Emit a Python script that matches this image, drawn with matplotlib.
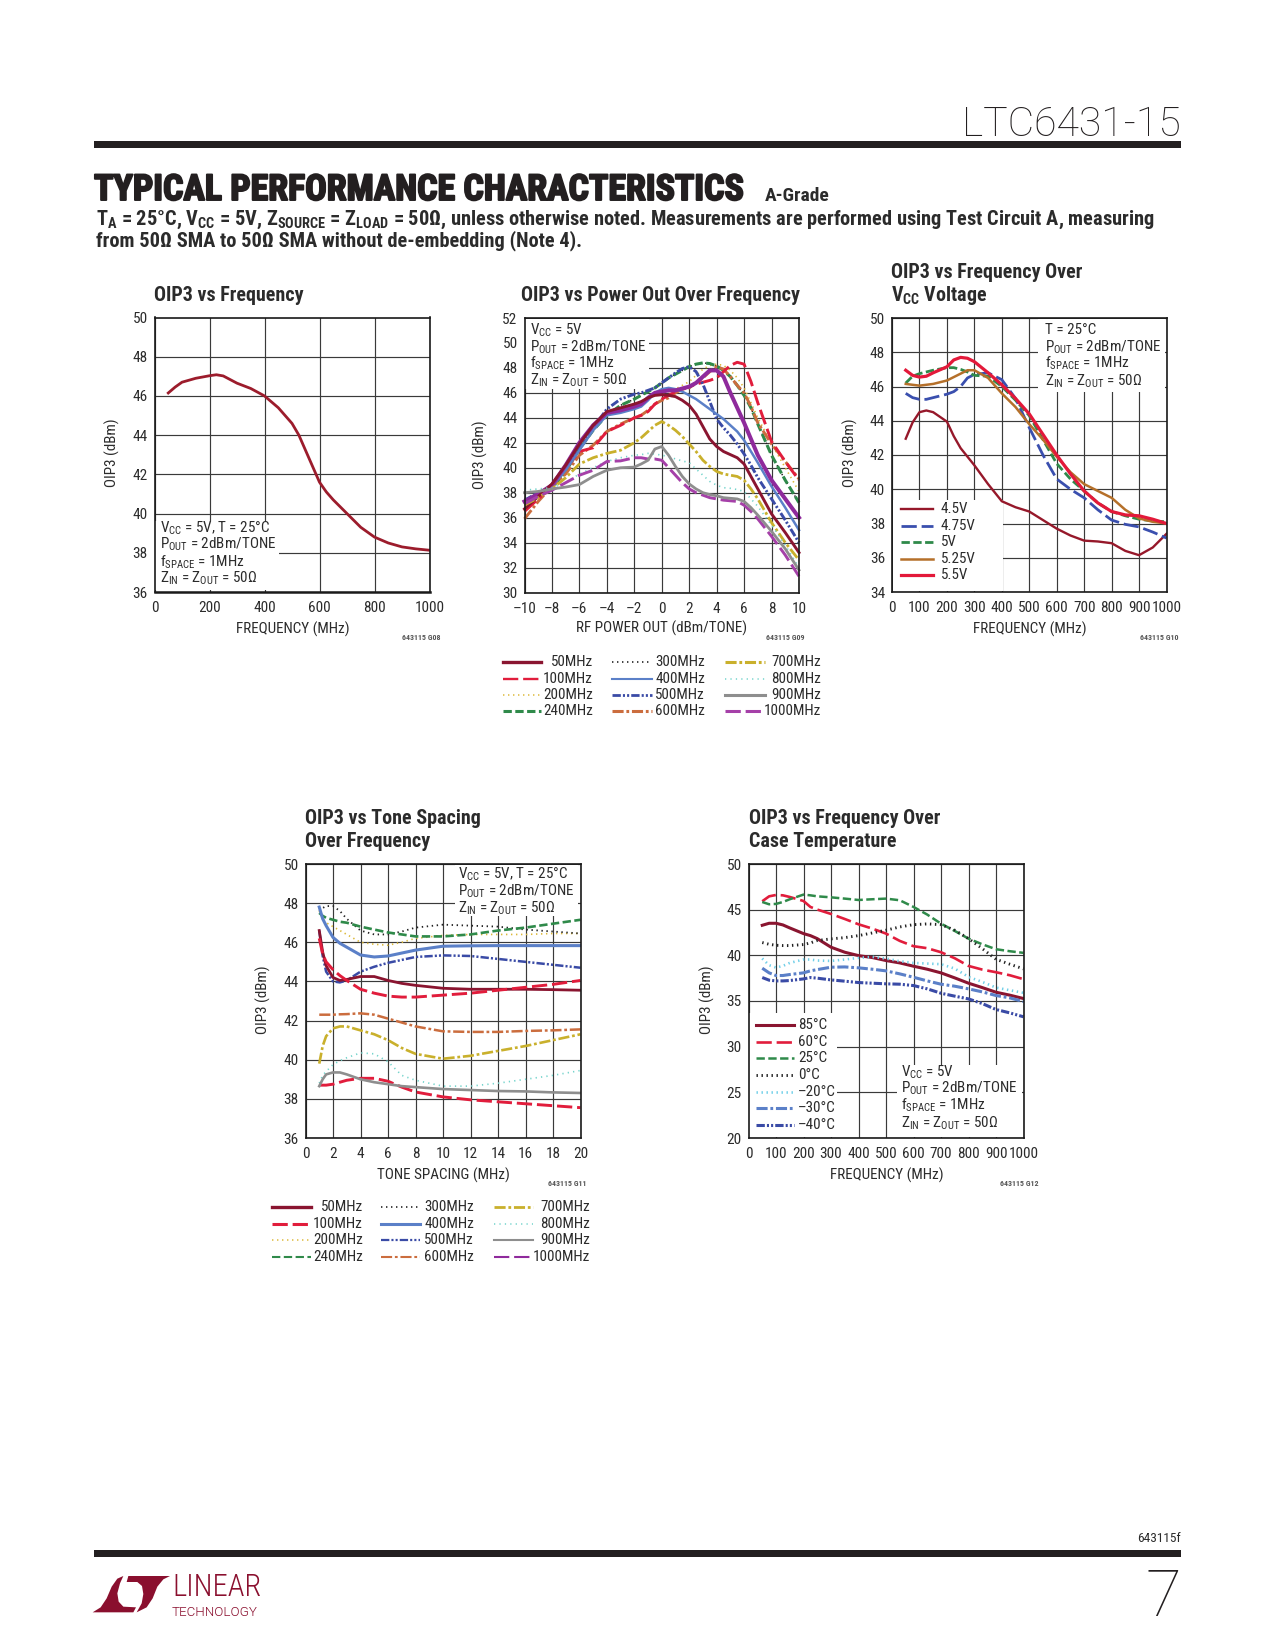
import matplotlib
matplotlib.use("Agg")
import matplotlib.pyplot as plt
import matplotlib.patheffects as pe
from matplotlib.lines import Line2D
from matplotlib.patches import Polygon, Rectangle
from matplotlib.transforms import Affine2D

# OIP3 vs frequency
FREQ_G08 = [50, 75, 100, 150, 200, 225, 250, 300, 350, 400, 450, 500, 525, 550, 575, 600, 625, 650, 700, 750, 800, 850, 900, 950, 1000]
OIP3_G08 = [46.15, 46.45, 46.7, 46.9, 47.03, 47.08, 47.02, 46.65, 46.38, 46.0, 45.4, 44.6, 44.0, 43.2, 42.4, 41.6, 41.1, 40.7, 40.0, 39.3, 38.8, 38.5, 38.3, 38.2, 38.13]

# OIP3 vs power out
POWER = [-10, -9, -8, -7, -6, -5, -4, -3, -2, -1.5, -1, -0.5, 0, 0.5, 1, 1.5, 2, 2.5, 3, 3.5, 4, 4.5, 5, 5.5, 6, 6.5, 7, 8, 9, 10]
P_300 = [37.2, 38, 38.4, 39.7, 41.5, 43, 44.2, 45, 45.5, 45.8, 46.1, 46.4, 46.8, 47.2, 47.5, 47.8, 48.1, 48.3, 48.4, 48.35, 48.15, 47.8, 47.3, 46.6, 45.8, 44.8, 43.5, 41, 39, 37.2]
P_200 = [37, 37.8, 38.4, 39.7, 41.4, 43, 44.3, 44.7, 45.1, 45.3, 45.6, 45.8, 46, 46.1, 46.3, 46.6, 46.9, 47.4, 47.9, 48.2, 48.3, 48.2, 47.8, 47.2, 46.4, 45.2, 44, 41.9, 40, 38.1]
P_240 = [37.2, 38, 38.4, 39.7, 41.5, 43, 44.2, 45, 45.5, 45.8, 46.1, 46.4, 46.8, 47.2, 47.5, 47.8, 48.1, 48.3, 48.4, 48.35, 48.15, 47.8, 47.3, 46.6, 45.8, 44.8, 43.5, 41, 39, 37.2]
P_600 = [35.9, 37.3, 38.5, 39.5, 41, 41.8, 42.9, 43.5, 44, 44.2, 44.6, 45.1, 45.4, 45.6, 46, 46.3, 46.4, 46.8, 47.2, 47.7, 48.1, 47.9, 47.3, 46.6, 46, 44.9, 43.6, 41.9, 40.5, 39.1]
P_100 = [36.5, 37.5, 38.5, 39.9, 41.3, 41.6, 42.9, 43.4, 44, 44.2, 44.5, 45.1, 45.5, 45.8, 46.1, 46.3, 46.5, 46.7, 46.85, 47, 47.2, 47.7, 48.2, 48.45, 48.3, 46.9, 45.2, 42.1, 40.5, 39]
P_500 = [37.4, 38, 38.5, 40, 41.5, 43.2, 44.7, 45.5, 45.9, 46, 46.2, 46.4, 46.8, 47.2, 47.6, 47.95, 48.1, 47.7, 46.7, 45.3, 43.9, 43.2, 42.6, 41.9, 41.1, 40.2, 39.2, 37.5, 35.8, 34]
P_400 = [37.3, 37.9, 38.5, 39.8, 41.4, 43, 44.2, 44.4, 44.7, 44.9, 45.4, 46, 46.3, 46.4, 46.3, 46.1, 45.8, 45.5, 45.1, 44.7, 44.3, 43.9, 43.4, 42.9, 42.2, 41.3, 40.4, 38.5, 36.8, 35]
P_THICK = [37.3, 37.9, 38.6, 40.2, 42, 43.4, 44.4, 44.6, 44.9, 45.1, 45.6, 46, 46.1, 46.2, 46.2, 46.35, 46.5, 46.8, 47.3, 47.8, 47.8, 47.3, 46, 44.8, 43.6, 42.3, 41, 39, 37.5, 36]
P_50 = [36.7, 37.7, 38.7, 40.2, 41.9, 43.4, 44.5, 44.8, 45.1, 45.3, 45.6, 45.8, 45.85, 45.8, 45.7, 45.4, 45, 44.3, 43.3, 42.3, 41.7, 41.3, 41.05, 40.8, 40.3, 39.3, 38.3, 36.3, 34.8, 33.2]
P_700 = [37, 37.6, 38.3, 39.2, 40.3, 40.8, 41.15, 41.4, 42, 42.4, 42.9, 43.4, 43.7, 43.4, 43, 42.5, 41.9, 41.3, 40.6, 40.1, 39.7, 39.5, 39.4, 39.3, 39, 38.3, 37.5, 35.6, 34, 32.6]
P_800 = [38.2, 38.3, 38.4, 38.8, 39.5, 40, 40.5, 40.8, 41, 41.05, 41.15, 41.1, 41, 40.9, 40.7, 40.55, 40.4, 39.9, 39.4, 38.9, 38.6, 38.4, 38.35, 38.25, 38.1, 37.5, 36.9, 35.4, 33.8, 32]
P_1000 = [37.1, 37.7, 38.2, 38.8, 39.4, 39.8, 40.5, 40.55, 40.8, 40.8, 40.7, 40.7, 40.6, 40, 39.4, 38.8, 38.3, 38, 37.8, 37.6, 37.5, 37.4, 37.35, 37.3, 37, 36.5, 35.9, 34.5, 33, 31.3]
P_900 = [38, 38.1, 38.3, 38.45, 38.65, 39.3, 39.8, 40, 40.05, 40.3, 40.6, 41.5, 41.7, 41, 40.1, 39.3, 38.7, 38.3, 38, 37.85, 37.75, 37.6, 37.55, 37.5, 37.3, 36.8, 36.2, 34.9, 33.5, 31.8]

# OIP3 vs frequency over Vcc
FREQ_G10 = [50, 75, 100, 125, 150, 200, 225, 250, 275, 300, 350, 400, 450, 500, 550, 600, 650, 700, 750, 800, 850, 900, 950, 1000]
V_450 = [42.95, 43.9, 44.5, 44.6, 44.5, 43.95, 43.1, 42.4, 41.9, 41.4, 40.3, 39.3, 38.95, 38.7, 38.2, 37.7, 37.3, 37.0, 36.95, 36.85, 36.4, 36.15, 36.6, 37.4]
V_475 = [45.6, 45.35, 45.25, 45.25, 45.35, 45.55, 45.7, 46, 46.5, 46.7, 46.8, 46.4, 45.3, 43.6, 42, 40.6, 40, 39.5, 38.8, 38.2, 37.95, 37.8, 37.5, 37.15]
V_500 = [46.2, 46.6, 46.75, 46.85, 46.95, 47.1, 47.1, 47, 46.85, 46.65, 46.6, 46, 45.2, 44.3, 42.9, 41.5, 40.6, 39.9, 39.2, 38.7, 38.45, 38.25, 38.15, 38.1]
V_525 = [46.15, 46.1, 46.05, 46.1, 46.15, 46.35, 46.55, 46.75, 46.95, 46.95, 46.5, 45.6, 44.8, 43.8, 42.9, 41.9, 41, 40.3, 39.9, 39.5, 38.8, 38.3, 38.1, 38]
V_550 = [46.95, 46.65, 46.55, 46.6, 46.8, 47.15, 47.55, 47.7, 47.65, 47.45, 46.8, 46.1, 45.3, 44.4, 43.2, 42, 40.9, 39.9, 39.2, 38.7, 38.5, 38.45, 38.25, 38]

# OIP3 vs tone spacing
SPACING = [1, 1.25, 1.5, 2, 2.5, 3, 4, 5, 6, 7, 8, 10, 12, 14, 16, 18, 20]
S_200 = [47.6, 47.2, 47, 46.8, 46.6, 46.4, 46, 45.9, 45.85, 46, 46.2, 46.35, 46.4, 46.4, 46.4, 46.45, 46.45]
S_300 = [47.6, 47.75, 47.85, 47.85, 47.6, 47.2, 46.6, 46.4, 46.4, 46.55, 46.75, 46.9, 46.85, 46.8, 46.65, 46.55, 46.45]
S_240 = [47.5, 47.35, 47.25, 47.15, 47.05, 47, 46.8, 46.65, 46.5, 46.4, 46.3, 46.3, 46.4, 46.6, 46.75, 46.95, 47.15]
S_400 = [47.8, 47.2, 46.85, 46.25, 45.95, 45.75, 45.35, 45.25, 45.3, 45.45, 45.6, 45.8, 45.82, 45.83, 45.83, 45.83, 45.83]
S_500 = [46.6, 45.3, 44.5, 44, 43.95, 44.05, 44.5, 44.75, 44.95, 45.1, 45.25, 45.33, 45.3, 45.15, 45, 44.85, 44.7]
S_50 = [46.6, 45.5, 44.8, 44.2, 44.05, 44.1, 44.25, 44.25, 44.05, 43.9, 43.8, 43.65, 43.6, 43.6, 43.6, 43.58, 43.55]
S_100 = [46.2, 45.4, 45, 44.6, 44.3, 44.05, 43.6, 43.4, 43.25, 43.2, 43.2, 43.3, 43.4, 43.55, 43.7, 43.85, 44.05]
S_600 = [42.3, 42.3, 42.3, 42.3, 42.32, 42.33, 42.37, 42.3, 42.1, 41.9, 41.7, 41.45, 41.42, 41.42, 41.47, 41.5, 41.55]
S_700 = [39.8, 40.7, 41.2, 41.6, 41.7, 41.7, 41.5, 41.3, 41, 40.6, 40.3, 40.05, 40.2, 40.45, 40.7, 41, 41.3]
S_800 = [38.8, 39.2, 39.4, 39.75, 39.95, 40.1, 40.35, 40.3, 39.9, 39.2, 38.95, 38.65, 38.65, 38.8, 39, 39.2, 39.45]
S_1000 = [38.7, 38.7, 38.7, 38.75, 38.85, 38.95, 39.05, 39.05, 38.9, 38.6, 38.35, 38.1, 37.95, 37.85, 37.75, 37.65, 37.55]
S_900 = [38.65, 39, 39.25, 39.35, 39.35, 39.25, 39, 38.85, 38.75, 38.65, 38.6, 38.5, 38.45, 38.4, 38.38, 38.33, 38.3]

# OIP3 vs frequency over temperature
FREQ_G12 = [50, 75, 100, 125, 150, 200, 225, 250, 300, 350, 400, 450, 500, 550, 600, 650, 700, 750, 800, 850, 900, 950, 1000]
T_P85 = [43.29, 43.51, 43.51, 43.33, 43, 42.38, 42.16, 41.83, 40.89, 40.34, 39.97, 39.76, 39.43, 39.17, 38.81, 38.48, 38.08, 37.53, 36.95, 36.47, 35.96, 35.64, 35.27]
T_P60 = [45.92, 46.46, 46.61, 46.57, 46.39, 45.95, 45.3, 45.01, 44.53, 43.98, 43.4, 42.93, 42.38, 41.58, 41, 40.78, 40.34, 39.68, 38.84, 38.44, 38.15, 37.82, 37.39]
T_P25 = [45.84, 45.59, 45.63, 45.84, 46.14, 46.65, 46.57, 46.46, 46.35, 46.21, 46.06, 46.14, 46.21, 46.03, 45.3, 44.46, 43.47, 42.67, 41.83, 41.21, 40.67, 40.45, 40.27]
T_0 = [41.4, 41.21, 41.1, 41.07, 41.07, 41.18, 41.36, 41.62, 41.8, 41.94, 42.16, 42.45, 42.75, 43.11, 43.36, 43.44, 43.36, 42.75, 41.83, 40.74, 39.57, 39.03, 38.52]
T_M20 = [39.65, 38.92, 38.66, 38.84, 39.17, 39.54, 39.54, 39.43, 39.39, 39.54, 39.72, 39.83, 39.65, 39.35, 39.17, 39.1, 39.03, 38.55, 37.64, 37.09, 36.47, 36.18, 35.89]
T_M30 = [38.59, 38.08, 37.79, 37.79, 37.9, 38.08, 38.3, 38.44, 38.7, 38.73, 38.63, 38.48, 38.3, 37.97, 37.6, 37.2, 36.84, 36.62, 36.33, 36, 35.6, 35.34, 34.94]
T_M40 = [37.57, 37.28, 37.2, 37.2, 37.24, 37.42, 37.57, 37.5, 37.31, 37.17, 37.02, 36.95, 36.88, 36.84, 36.69, 36.33, 35.85, 35.53, 35.23, 34.72, 34.07, 33.7, 33.27]

# colours and line styles
MAROON = "#8a1530"
RED = "#e11d3c"
AMBER = "#dcb93a"
GREEN = "#2f8a4a"
BLUE = "#5b80c8"
NAVY = "#3a4ba6"
ORANGE = "#cb6d3e"
MUSTARD = "#c9b02c"
TEAL = "#72d3cb"
GRAY = "#8e8e8e"
PURPLE = "#8f2a9c"
PURPLE_LIGHT = "#a540a8"
SKY = "#70cfe8"
TEXT = "#2b2b2b"

SOLID = "-"
LONG = (0, (11, 3.5))
DASH = (0, (6, 2.5))
DOT = (0, (1, 2.6))
FINE_DOT = (0, (0.9, 3))
DASHDOT = (0, (8, 2, 2, 2))
DASHDOTDOT = (0, (6, 1.5, 1.5, 1.5, 1.5, 1.5))

NARROW = ["Roboto Condensed", "DejaVu Sans"]
THIN = ["Roboto", "DejaVu Sans"]
plt.rcParams["font.family"] = NARROW
plt.rcParams["mathtext.fontset"] = "custom"
plt.rcParams["mathtext.rm"] = "Roboto Condensed"
plt.rcParams["mathtext.bf"] = "Roboto Condensed:bold"
plt.rcParams["mathtext.default"] = "regular"
plt.rcParams["lines.scale_dashes"] = False

fig = plt.figure(figsize=(12.75, 16.5), dpi=100)
# page pixels, y going down, same as the reference
PAGE = Affine2D().scale(1 / 1275, -1 / 1650).translate(0, 1) + fig.transFigure


def page_text(x, y, s, size=10.9, ha="left", va="center", weight="normal", color=TEXT, **kw):
    return fig.text(x, y, s, transform=PAGE, fontsize=size, ha=ha, va=va,
                    fontweight=weight, color=color, **kw)


def make_axes(box, xlim, ylim, xticks, yticks, xlabels=None):
    left, top, right, bottom = box
    ax = fig.add_axes([left / 1275, 1 - bottom / 1650, (right - left) / 1275, (bottom - top) / 1650])
    ax.set_xlim(*xlim)
    ax.set_ylim(*ylim)
    ax.set_xticks(xticks)
    ax.set_yticks(yticks)
    if xlabels:
        ax.set_xticklabels(xlabels)
    ax.grid(True, color="#3a3a3a", linewidth=0.85, zorder=1)
    ax.set_axisbelow(True)
    ax.tick_params(length=0, labelsize=11, labelcolor=TEXT, pad=5)
    ax.tick_params(axis="x", pad=6.5)
    for name, spine in ax.spines.items():
        spine.set_linewidth(1.2)
        spine.set_color("#1a1a1a")
        spine.set_zorder(6)
    return ax


def white_box(ax, x0, y0, x1, y1):
    ax.add_patch(Rectangle((x0, y0), x1 - x0, y1 - y0, transform=PAGE, facecolor="white",
                           edgecolor="none", zorder=1.5))


def info_block(x, ys, lines):
    for y, line in zip(ys, lines):
        page_text(x, y, line)


def key(x0, x1, y, color, style, lw):
    fig.add_artist(Line2D([x0, x1], [y, y], transform=PAGE, color=color, linestyle=style, linewidth=lw))


def axis_text(xlab, ylab, code, xlab_at, ylab_at, code_at):
    page_text(xlab_at[0], xlab_at[1], xlab, ha="center")
    page_text(ylab_at[0], ylab_at[1], ylab, ha="center", rotation=90)
    page_text(code_at[0], code_at[1], code, size=5.7, ha="right", weight="bold", color="#555555")


FREQ_ROWS = [["50MHz", "100MHz", "200MHz", "240MHz"],
             ["300MHz", "400MHz", "500MHz", "600MHz"],
             ["700MHz", "800MHz", "900MHz", "1000MHz"]]
VCC5 = r"$\mathrm{V_{CC}}$ = 5V"
POUT = r"$\mathrm{P_{OUT}}$ = 2dBm/TONE"
FSPACE = r"$\mathrm{f_{SPACE}}$ = 1MHz"
ZIN = r"$\mathrm{Z_{IN}}$ = $\mathrm{Z_{OUT}}$ = 50Ω"

# page furniture
fig.add_artist(Rectangle((94, 141), 1087, 7, transform=PAGE, facecolor="#231f20", edgecolor="none"))
fig.add_artist(Rectangle((94, 1550), 1087, 7, transform=PAGE, facecolor="#231f20", edgecolor="none"))
page_text(1181, 125, "LTC6431-15", size=29.5, ha="right", family=THIN, weight=250, color="#231f20")
page_text(1181, 1598, "7", size=47, ha="right", family=THIN, weight=250, color="#231f20")
page_text(1181, 1539, "643115f", size=9.6, ha="right")
head = page_text(94, 190, "TYPICAL PERFORMANCE CHARACTERISTICS", size=25.8, weight="bold", color="#231f20")
head.set_path_effects([pe.withStroke(linewidth=1.4, foreground="#231f20")])
page_text(765, 196, "A-Grade", size=14, weight="bold")
page_text(96, 220, r"$\mathbf{T_A}$ = 25°C, $\mathbf{V_{CC}}$ = 5V, $\mathbf{Z_{SOURCE}}$ = $\mathbf{Z_{LOAD}}$ = 50Ω, unless otherwise noted. Measurements are performed using Test Circuit A, measuring",
          size=14.7, weight="bold")
page_text(96, 241, "from 50Ω SMA to 50Ω SMA without de-embedding (Note 4).", size=14.7, weight="bold")

# logo
LOGO_RED = "#8a0f2e"
LOGO_LEFT = [(38, 277), (62, 262), (80, 235), (95, 200), (112, 176), (130, 168), (120, 190), (112, 220), (116, 245), (130, 260), (168, 262), (160, 277)]
LOGO_RIGHT = [(145, 168), (270, 168), (250, 178), (232, 200), (218, 235), (200, 262), (170, 277), (185, 250), (190, 222), (186, 198), (172, 186), (140, 186)]
for shape in (LOGO_LEFT, LOGO_RIGHT):
    fig.add_artist(Polygon([(80 + x / 3, 1520 + y / 3) for x, y in shape], closed=True, transform=PAGE,
                           facecolor=LOGO_RED, edgecolor="none"))
page_text(172, 1587, "LINEAR", size=22, color=LOGO_RED, weight=300)
page_text(172, 1612, "TECHNOLOGY", size=9.6, color=LOGO_RED, family=THIN, weight=300)

# G08
ax = make_axes((154.5, 317.5, 429.5, 592), (0, 1000), (36, 50), range(0, 1001, 200), range(36, 51, 2))
white_box(ax, 155, 521, 279, 590)
ax.plot(FREQ_G08, OIP3_G08, color="#9c1c2c", linewidth=2.0, zorder=2)
ax.spines["bottom"].set_linewidth(1.8)
page_text(154, 295.5, "OIP3 vs Frequency", size=14.4, weight="bold")
info_block(160, [528, 544, 562, 578], [VCC5 + ", T = 25°C", POUT, FSPACE, ZIN])
axis_text("FREQUENCY (MHz)", "OIP3 (dBm)", "643115 G08", (293, 629), (112, 453), (440, 637))

# G09
ax = make_axes((524.5, 318, 799, 592.5), (-10, 10), (30, 52), range(-10, 11, 2), range(30, 53, 2),
               ["–10", "–8", "–6", "–4", "–2", "0", "2", "4", "6", "8", "10"])
white_box(ax, 525, 319, 649, 389)
G09_SERIES = [(P_300, "#222222", DOT, 1.1), (P_200, AMBER, DOT, 1.2), (P_240, GREEN, DASH, 2.2),
              (P_600, ORANGE, DASHDOT, 2.1), (P_100, RED, LONG, 2.1), (P_500, NAVY, DASHDOTDOT, 2.1),
              (P_400, BLUE, SOLID, 1.8), (P_THICK, PURPLE, SOLID, 2.9), (P_50, MAROON, SOLID, 2.1),
              (P_700, MUSTARD, DASHDOT, 2.0), (P_800, TEAL, FINE_DOT, 1.2),
              (P_1000, PURPLE_LIGHT, LONG, 2.1), (P_900, GRAY, SOLID, 2.0)]
for values, color, style, lw in G09_SERIES:
    ax.plot(POWER, values, color=color, linestyle=style, linewidth=lw, zorder=2, clip_on=False)
page_text(660, 295.5, "OIP3 vs Power Out Over Frequency", size=14.4, ha="center", weight="bold")
info_block(530, [330, 347, 363, 380], [VCC5, POUT, FSPACE, ZIN])
axis_text("RF POWER OUT (dBm/TONE)", "OIP3 (dBm)", "643115 G09", (662, 628), (480, 455), (805, 637))
G09_KEYS = [[(MAROON, SOLID, 2.4), (RED, LONG, 1.7), (AMBER, DOT, 1.1), (GREEN, DASH, 2.2)],
            [("#222222", DOT, 1.2), (BLUE, SOLID, 1.5), (NAVY, DASHDOTDOT, 2.0), (ORANGE, DASHDOT, 2.2)],
            [(MUSTARD, DASHDOT, 2.2), (TEAL, FINE_DOT, 1.1), (GRAY, SOLID, 2.2), (PURPLE_LIGHT, LONG, 2.2)]]
for col, (x0, x1, right) in enumerate([(503, 541, 593), (612, 652, 705), (725, 765, 821)]):
    for y, (color, style, lw), label in zip([662, 679, 695, 711], G09_KEYS[col], FREQ_ROWS[col]):
        key(x0, x1, y, color, style, lw)
        page_text(right, y, label, ha="right")

# G10
ax = make_axes((892, 318, 1166.5, 592), (0, 1000), (34, 50), range(0, 1001, 100), range(34, 51, 2))
white_box(ax, 1038, 319, 1165, 392)
white_box(ax, 893, 500, 1003, 591)
G10_SERIES = [(V_450, "#96182a", SOLID, 1.7, "4.5V"), (V_475, "#3a4fae", LONG, 2.0, "4.75V"),
              (V_500, GREEN, DASH, 2.0, "5V"), (V_525, "#b5702a", SOLID, 1.8, "5.25V"),
              (V_550, "#e3193a", SOLID, 2.3, "5.5V")]
for (values, color, style, lw, label), y in zip(G10_SERIES, [509, 526, 542, 559, 575]):
    ax.plot(FREQ_G10, values, color=color, linestyle=style, linewidth=lw, zorder=2)
    key(901, 933, y, color, style, lw)
    page_text(941, y, label)
page_text(891, 272.5, "OIP3 vs Frequency Over", size=14.4, weight="bold")
page_text(891, 295.5, r"$\mathbf{V_{CC}}$ Voltage", size=14.4, weight="bold")
info_block(1045, [330, 347, 363, 381], ["T = 25°C", POUT, FSPACE, ZIN])
axis_text("FREQUENCY (MHz)", "OIP3 (dBm)", "643115 G10", (1030, 629), (850, 453), (1178, 637))

# G11
ax = make_axes((305.5, 864, 580.5, 1138), (0, 20), (36, 50), range(0, 21, 2), range(36, 51, 2))
white_box(ax, 455, 865, 578, 916)
G11_SERIES = [(S_200, AMBER, DOT, 1.2), (S_300, "#222222", DOT, 1.3), (S_240, GREEN, DASH, 1.9),
              (S_400, BLUE, SOLID, 2.2), (S_500, NAVY, DASHDOTDOT, 1.8), (S_50, MAROON, SOLID, 2.0),
              (S_100, RED, LONG, 2.1), (S_600, ORANGE, DASHDOT, 1.8), (S_700, MUSTARD, DASHDOT, 1.9),
              (S_800, TEAL, FINE_DOT, 1.2), (S_1000, RED, LONG, 2.1), (S_900, GRAY, SOLID, 1.9)]
for values, color, style, lw in G11_SERIES:
    ax.plot(SPACING, values, color=color, linestyle=style, linewidth=lw, zorder=2)
page_text(305, 818.5, "OIP3 vs Tone Spacing", size=14.4, weight="bold")
page_text(305, 841.5, "Over Frequency", size=14.4, weight="bold")
info_block(458, [874, 891, 908], [VCC5 + ", T = 25°C", POUT, ZIN])
axis_text("TONE SPACING (MHz)", "OIP3 (dBm)", "643115 G11", (443, 1175), (263, 1000), (587, 1184))
G11_KEYS = [[(MAROON, SOLID, 2.4), (RED, LONG, 2.2), (AMBER, DOT, 1.1), (GREEN, DASH, 1.5)],
            [("#222222", DOT, 1.2), (BLUE, SOLID, 2.2), (NAVY, DASHDOTDOT, 1.6), (ORANGE, DASHDOT, 1.5)],
            [(MUSTARD, DASHDOT, 2.0), (TEAL, FINE_DOT, 1.1), (GRAY, SOLID, 1.5), (PURPLE, LONG, 1.5)]]
for col, (x0, x1, right) in enumerate([(272, 311, 363), (381, 420, 474), (494, 533, 590)]):
    for y, (color, style, lw), label in zip([1207, 1224, 1240, 1257], G11_KEYS[col], FREQ_ROWS[col]):
        key(x0, x1, y, color, style, lw)
        page_text(right, y, label, ha="right")

# G12
ax = make_axes((748.5, 864, 1023.5, 1138), (0, 1000), (20, 50), range(0, 1001, 100), range(20, 51, 5))
white_box(ax, 749, 1013, 837, 1137)
white_box(ax, 897, 1065, 1022, 1137)
G12_SERIES = [(T_P85, MAROON, SOLID, 2.2, "85°C"), (T_P60, RED, LONG, 1.9, "60°C"),
              (T_P25, GREEN, DASH, 1.8, "25°C"), (T_0, "#222222", DOT, 2.1, "0°C"),
              (T_M20, SKY, DOT, 1.9, "–20°C"), (T_M30, BLUE, DASHDOT, 2.2, "–30°C"),
              (T_M40, NAVY, DASHDOTDOT, 2.2, "–40°C")]
for (values, color, style, lw, label), y in zip(G12_SERIES, [1025, 1042, 1058, 1075, 1092, 1108, 1125]):
    ax.plot(FREQ_G12, values, color=color, linestyle=style, linewidth=lw, zorder=2)
    key(756, 794, y, color, style, lw)
    page_text(798, y, label)
page_text(749, 818.5, "OIP3 vs Frequency Over", size=14.4, weight="bold")
page_text(749, 841.5, "Case Temperature", size=14.4, weight="bold")
info_block(901, [1072, 1088, 1105, 1123], [VCC5, POUT, FSPACE, ZIN])
axis_text("FREQUENCY (MHz)", "OIP3 (dBm)", "643115 G12", (887, 1175), (707, 1000), (1039, 1183))

fig.savefig("out.png", dpi=100)
